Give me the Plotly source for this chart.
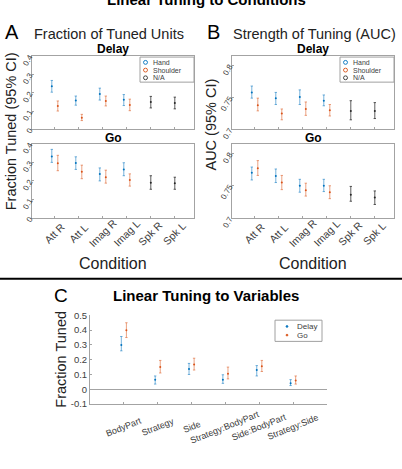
import plotly.graph_objects as go

W, H = 402, 469

# ---------------- data ----------------
conditions = ["Att R", "Att L", "Imag R", "Imag L", "Spk R", "Spk L"]
limb_conditions = ["Att R", "Att L", "Imag R", "Imag L"]
speech_conditions = ["Spk R", "Spk L"]

# Fraction tuned (Delay)
frac_delay_hand = [0.235, 0.158, 0.193, 0.162]
frac_delay_hand_lo = [0.203, 0.132, 0.160, 0.130]
frac_delay_hand_hi = [0.267, 0.182, 0.225, 0.190]
frac_delay_sh = [0.128, 0.064, 0.155, 0.133]
frac_delay_sh_lo = [0.100, 0.048, 0.128, 0.102]
frac_delay_sh_hi = [0.155, 0.082, 0.182, 0.165]
frac_delay_na = [0.149, 0.144]
frac_delay_na_lo = [0.117, 0.112]
frac_delay_na_hi = [0.180, 0.176]

# Fraction tuned (Go)
frac_go_hand = [0.332, 0.296, 0.237, 0.262]
frac_go_hand_lo = [0.300, 0.262, 0.200, 0.228]
frac_go_hand_hi = [0.370, 0.330, 0.270, 0.298]
frac_go_sh = [0.295, 0.250, 0.220, 0.205]
frac_go_sh_lo = [0.255, 0.212, 0.188, 0.172]
frac_go_sh_hi = [0.338, 0.285, 0.258, 0.238]
frac_go_na = [0.190, 0.187]
frac_go_na_lo = [0.155, 0.155]
frac_go_na_hi = [0.228, 0.220]

# AUC (Delay)
auc_delay_hand = [0.758, 0.749, 0.751, 0.745]
auc_delay_hand_lo = [0.749, 0.739, 0.739, 0.737]
auc_delay_hand_hi = [0.768, 0.758, 0.762, 0.754]
auc_delay_sh = [0.738, 0.725, 0.732, 0.730]
auc_delay_sh_lo = [0.729, 0.715, 0.722, 0.721]
auc_delay_sh_hi = [0.749, 0.732, 0.743, 0.739]
auc_delay_na = [0.729, 0.729]
auc_delay_na_lo = [0.715, 0.717]
auc_delay_na_hi = [0.745, 0.742]

# AUC (Go)
auc_go_hand = [0.770, 0.765, 0.750, 0.750]
auc_go_hand_lo = [0.759, 0.755, 0.740, 0.741]
auc_go_hand_hi = [0.779, 0.776, 0.760, 0.760]
auc_go_sh = [0.777, 0.755, 0.743, 0.740]
auc_go_sh_lo = [0.766, 0.744, 0.734, 0.730]
auc_go_sh_hi = [0.789, 0.766, 0.754, 0.750]
auc_go_na = [0.736, 0.732]
auc_go_na_lo = [0.726, 0.721]
auc_go_na_hi = [0.749, 0.742]

# Linear tuning to variables
variables = ["BodyPart", "Strategy", "Side", "Strategy:BodyPart", "Side:BodyPart", "Strategy:Side"]
var_delay = [0.300, 0.065, 0.137, 0.065, 0.130, 0.040]
var_delay_lo = [0.260, 0.035, 0.100, 0.040, 0.090, 0.025]
var_delay_hi = [0.357, 0.090, 0.175, 0.098, 0.160, 0.065]
var_go = [0.400, 0.150, 0.168, 0.105, 0.155, 0.060]
var_go_lo = [0.350, 0.110, 0.130, 0.070, 0.120, 0.035]
var_go_hi = [0.450, 0.195, 0.210, 0.150, 0.195, 0.090]

cond_legend = ["Hand", "Shoulder", "N/A"]
var_legend = ["Delay", "Go"]

BLUE = "#0072BD"
RED = "#D95319"
BLACK = "#262626"
BLUE_E = "rgba(0,114,189,0.6)"
RED_E = "rgba(217,83,25,0.6)"
BLACK_E = "rgba(30,30,30,0.8)"
AXC = "#a3a3a3"
TXT = "#404040"
FONT = "Liberation Sans, Arial, sans-serif"


def px(x):
    return x / W


def py(y):
    return 1 - y / H


fig = go.Figure()


def err_trace(xs, means, lo, hi, color, ecolor, xa, ya, name):
    fig.add_trace(go.Scatter(
        x=xs, y=means, mode="markers", name=name,
        marker=dict(size=2, color=color),
        error_y=dict(type="data", symmetric=False,
                     array=[h - m for h, m in zip(hi, means)],
                     arrayminus=[m - l for m, l in zip(means, lo)],
                     color=ecolor, thickness=0.9, width=1.2),
        xaxis=xa, yaxis=ya, showlegend=False, hoverinfo="skip"))


def idx(cats, sub, off=0.0):
    return [cats.index(c) + 1 + off for c in sub]


OFF = 0.125
panels = [
    ("x", "y", frac_delay_hand, frac_delay_hand_lo, frac_delay_hand_hi,
     frac_delay_sh, frac_delay_sh_lo, frac_delay_sh_hi,
     frac_delay_na, frac_delay_na_lo, frac_delay_na_hi),
    ("x2", "y2", frac_go_hand, frac_go_hand_lo, frac_go_hand_hi,
     frac_go_sh, frac_go_sh_lo, frac_go_sh_hi,
     frac_go_na, frac_go_na_lo, frac_go_na_hi),
    ("x3", "y3", auc_delay_hand, auc_delay_hand_lo, auc_delay_hand_hi,
     auc_delay_sh, auc_delay_sh_lo, auc_delay_sh_hi,
     auc_delay_na, auc_delay_na_lo, auc_delay_na_hi),
    ("x4", "y4", auc_go_hand, auc_go_hand_lo, auc_go_hand_hi,
     auc_go_sh, auc_go_sh_lo, auc_go_sh_hi,
     auc_go_na, auc_go_na_lo, auc_go_na_hi),
]
for p in panels:
    xa, ya = p[0], p[1]
    err_trace(idx(conditions, limb_conditions, -OFF), p[2], p[3], p[4], BLUE, BLUE_E, xa, ya, "Hand")
    err_trace(idx(conditions, limb_conditions, OFF), p[5], p[6], p[7], RED, RED_E, xa, ya, "Shoulder")
    err_trace(idx(conditions, speech_conditions), p[8], p[9], p[10], BLACK, BLACK_E, xa, ya, "N/A")

# panel C
COFF = 0.075
err_trace(idx(variables, variables, -COFF), var_delay, var_delay_lo, var_delay_hi, BLUE, BLUE_E,
          "x5", "y5", "Delay")
err_trace(idx(variables, variables, COFF), var_go, var_go_lo, var_go_hi, RED, RED_E,
          "x5", "y5", "Go")

# ---------------- axes ----------------
AX = dict(showgrid=False, zeroline=False, linecolor=AXC, linewidth=1, mirror=True,
          ticks="inside", ticklen=2, tickcolor=AXC, showline=True,
          tickfont=dict(family=FONT, size=8, color=TXT))

A_X = (32, 194)
B_X = (232, 394)
D_Y = (52, 128)
G_Y = (143, 220)
XR = [0.05, 6.8]

layout = dict(width=W, height=H, margin=dict(l=0, r=0, t=0, b=0),
              paper_bgcolor="white", plot_bgcolor="white", showlegend=False,
              font=dict(family=FONT, color=TXT))


def xax(dom, anchor):
    return dict(AX, domain=[px(dom[0]), px(dom[1])], range=XR, anchor=anchor,
                tickvals=list(range(1, len(conditions) + 1)),
                ticktext=[""] * len(conditions))


def yax(dom, anchor, rng, tv, tt):
    return dict(AX, domain=[py(dom[1]), py(dom[0])], range=rng, anchor=anchor,
                tickvals=tv, ticktext=tt, tickangle=-60)


frac_ticks = [0, 0.1, 0.2, 0.3, 0.4]
frac_tt = ["0", "0.1", "0.2", "0.3", "0.4"]
auc_ticks = [0.7, 0.75, 0.8]
auc_tt = ["0.7", "0.75", "0.8"]

layout["xaxis"] = xax(A_X, "y")
layout["yaxis"] = yax(D_Y, "x", [0, 0.4], frac_ticks, frac_tt)
layout["xaxis2"] = xax(A_X, "y2")
layout["yaxis2"] = yax(G_Y, "x2", [0, 0.4], frac_ticks, frac_tt)
layout["xaxis3"] = xax(B_X, "y3")
layout["yaxis3"] = yax(D_Y, "x3", [0.7, 0.815], auc_ticks, auc_tt)
layout["xaxis4"] = xax(B_X, "y4")
layout["yaxis4"] = yax(G_Y, "x4", [0.7, 0.815], auc_ticks, auc_tt)

C_X = (90, 327)
C_Y = (321, 413)
layout["xaxis5"] = dict(showgrid=False, zeroline=False, showline=True, linecolor=AXC,
                        linewidth=1, ticks="inside", ticklen=2, tickcolor=AXC,
                        domain=[px(C_X[0]), px(C_X[1])], range=[0, 7], anchor="y5",
                        tickvals=list(range(1, len(variables) + 1)),
                        ticktext=[""] * len(variables))
layout["yaxis5"] = dict(showgrid=False, zeroline=True, zerolinecolor=AXC, zerolinewidth=1,
                        showline=True, linecolor=AXC, linewidth=1, ticks="inside",
                        ticklen=2, tickcolor=AXC,
                        domain=[py(C_Y[1]), py(C_Y[0])], range=[-0.1, 0.5], anchor="x5",
                        tickvals=[-0.1, 0, 0.1, 0.2, 0.3, 0.4, 0.5],
                        ticktext=["-0.1", "0", "0.1", "0.2", "0.3", "0.4", "0.5"],
                        tickfont=dict(family=FONT, size=9.5, color=TXT))

fig.update_layout(**layout)


# ---------------- text ----------------
def ann(text, x, y, size, bold=False, angle=0, color="black", xanchor="center", xref="paper"):
    fig.add_annotation(text=f"<b>{text}</b>" if bold else text,
                       x=px(x) if xref == "paper" else x, y=py(y),
                       xref=xref, yref="paper", showarrow=False, textangle=angle,
                       xanchor=xanchor, yanchor="middle",
                       font=dict(family=FONT, size=size, color=color))


# rotated category labels, centred under each tick (as in the reference)
for xr in ["x2", "x4"]:
    for i, c in enumerate(conditions):
        ann(c, i + 1, 236, 10.5, angle=-45, color=TXT, xref=xr)
for i, v in enumerate(variables):
    ann(v, i + 1, 437, 9, angle=-22, color=TXT, xref="x5")

ann("Linear Tuning to Conditions", 206, -7, 15, bold=True)
ann("A", 12, 27, 20)
ann("Fraction of Tuned Units", 109, 29, 14.5, color="#222")
ann("B", 213, 27, 20)
ann("Strength of Tuning (AUC)", 314, 29, 14.5, color="#222")
ann("Delay", 113, 45, 12, bold=True)
ann("Go", 113, 137, 12, bold=True)
ann("Delay", 313, 45, 12, bold=True)
ann("Go", 313, 137, 12, bold=True)
ann("Fraction Tuned (95% CI)", 11, 130, 14.5, angle=-90, color="#222")
ann("AUC (95% CI)", 211, 123, 14.5, angle=-90, color="#222")
ann("Condition", 113, 267, 16, color="#222")
ann("Condition", 313, 267, 16, color="#222")
ann("C", 61, 300, 19)
ann("Linear Tuning to Variables", 206, 300, 15, bold=True)
ann("Fraction Tuned", 61, 367, 14.5, angle=-90, color="#222")


# ---------------- compact legends (drawn manually) ----------------
def legend_box(x0, y0, x1, y1, names, colors, rows_y, mx, tx, fsize, open_circle):
    fig.add_shape(type="rect", xref="paper", yref="paper",
                  x0=px(x0), x1=px(x1), y0=py(y1), y1=py(y0),
                  line=dict(color="#a0a0a0", width=1), fillcolor="white", layer="above")
    for nm, col, ry in zip(names, colors, rows_y):
        r = 2.0 if open_circle else 0.9
        fig.add_shape(type="circle", xref="paper", yref="paper",
                      x0=px(mx - r), x1=px(mx + r), y0=py(ry + r), y1=py(ry - r),
                      line=dict(color=col, width=0.9),
                      fillcolor="rgba(0,0,0,0)" if open_circle else col, layer="above")
        ann(nm, tx, ry, fsize, color=TXT, xanchor="left")


for dx in (0, 200):
    legend_box(140 + dx, 53, 194 + dx, 79, cond_legend, [BLUE, RED, "#333"],
               [58.5, 66.5, 74.5], 145.5 + dx, 151 + dx, 7, True)
legend_box(275, 326, 322, 348, var_legend, [BLUE, RED], [332.5, 341.5], 287, 295, 8, False)

fig.add_shape(type="line", xref="paper", yref="paper", x0=0, x1=1, y0=py(283), y1=py(283),
              line=dict(color="black", width=2))

fig.write_html("out.html")
